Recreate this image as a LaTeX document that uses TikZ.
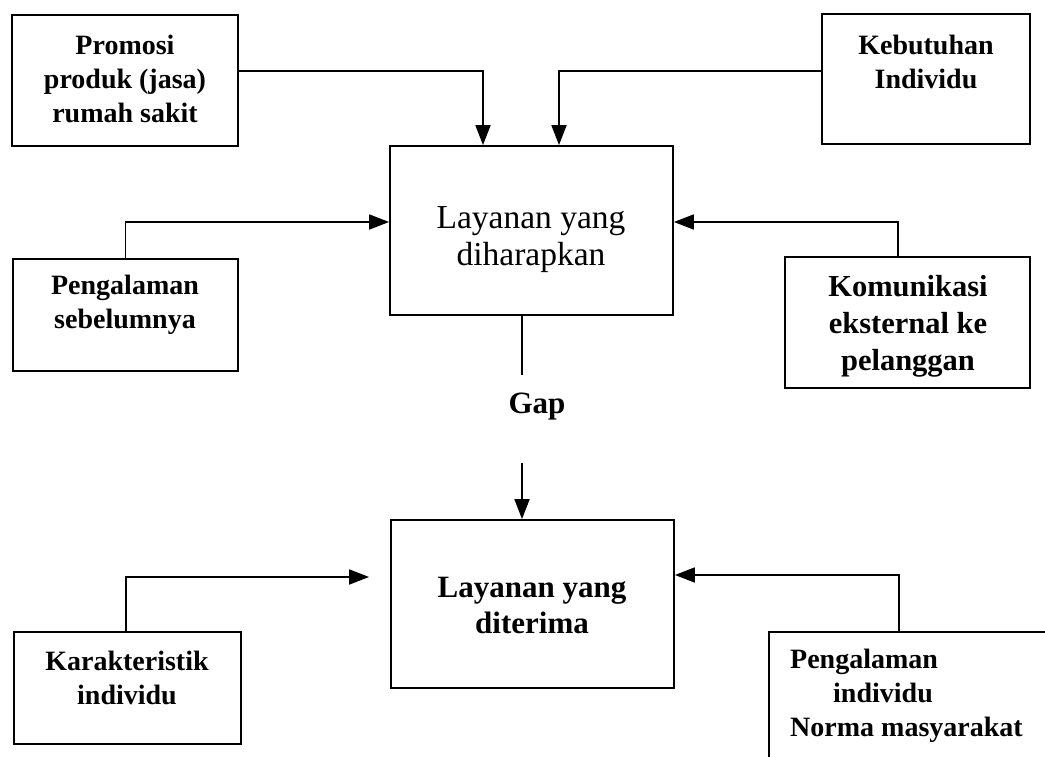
\documentclass[tikz,border=0pt]{standalone}
\usepackage{fontspec}
\setmainfont{Liberation Serif}
\usetikzlibrary{arrows.meta}
\begin{document}
\begin{tikzpicture}[x=1pt,y=-1pt,
  box/.style={draw, line width=1.8pt, inner sep=0pt, rectangle},
  lbl/.style={align=center, inner sep=0pt, font=\fontsize{28}{34}\selectfont\bfseries},
  biglbl/.style={align=center, inner sep=0pt, font=\fontsize{31}{36}\selectfont\bfseries},
  link/.style={line width=1.8pt, -{Triangle[length=20pt,width=15pt]}},
  plain/.style={line width=1.8pt}]
\clip (0,0) rectangle (1045,757);
\fill[white] (0,0) rectangle (1045,757);

% frames
\node[box, minimum width=226pt, minimum height=131pt] (promo)  at (125,80.5)   {};
\node[box, minimum width=208pt, minimum height=130pt] (kebut)  at (926,79)     {};
\node[box, minimum width=225pt, minimum height=112pt] (peng)   at (125.5,315)  {};
\node[box, minimum width=245pt, minimum height=131pt] (komun)  at (907.5,322.5){};
\node[box, minimum width=283pt, minimum height=169pt] (harap)  at (531.5,230.5){};
\node[box, minimum width=283pt, minimum height=168pt] (terima) at (532.5,604)  {};
\node[box, minimum width=227pt, minimum height=112pt] (karak)  at (127.5,688)  {};
\node[box, minimum width=330pt, minimum height=200pt, anchor=north west] (norma) at (768,631) {};

% texts
\node[lbl] (tpromo) at (125,79) {Promosi\\produk (jasa)\\rumah sakit};
\node[lbl] (tkebut) at (926,62) {Kebutuhan\\Individu};
\node[lbl] (tpeng)  at (125,305) {Pengalaman\\sebelumnya};
\node[lbl, font=\fontsize{30.5}{37}\selectfont\bfseries] (tkomun) at (908,326) {Komunikasi\\eksternal ke\\pelanggan};
\node[align=center, inner sep=0pt, font=\fontsize{33.5}{37}\selectfont] (tharap) at (531,240) {Layanan yang\\diharapkan};
\node[biglbl] (gap) at (537,407) {Gap};
\node[biglbl] (tterima) at (532,605) {Layanan yang\\diterima};
\node[lbl] (tkarak) at (127,678) {Karakteristik\\individu};
\node[lbl, align=left, anchor=north west] (tnorma) at (790,649)
  {Pengalaman\\\hspace*{43pt}individu\\Norma masyarakat};

% connectors
\coordinate (gapin)  at (522,375);
\coordinate (gapout) at (522,463);
\draw[link] (promo.east |- 0,71) -| (harap.north -| 483,0);
\draw[link] (kebut.west |- 0,71) -| (harap.north -| 559,0);
\draw[link] (peng.north) |- (harap.west |- 0,222);
\draw[link] (komun.north -| 898,0) |- (harap.east |- 0,222);
\draw[plain] (harap.south -| gapin) -- (gapin);
\draw[link] (gapout) -- (terima.north -| gapout);
\draw[link, shorten >=21pt] (karak.north -| 126,0) |- (terima.west |- 0,577);
\draw[link] (norma.north -| 899,0) |- (terima.east |- 0,575);
\end{tikzpicture}
\end{document}
